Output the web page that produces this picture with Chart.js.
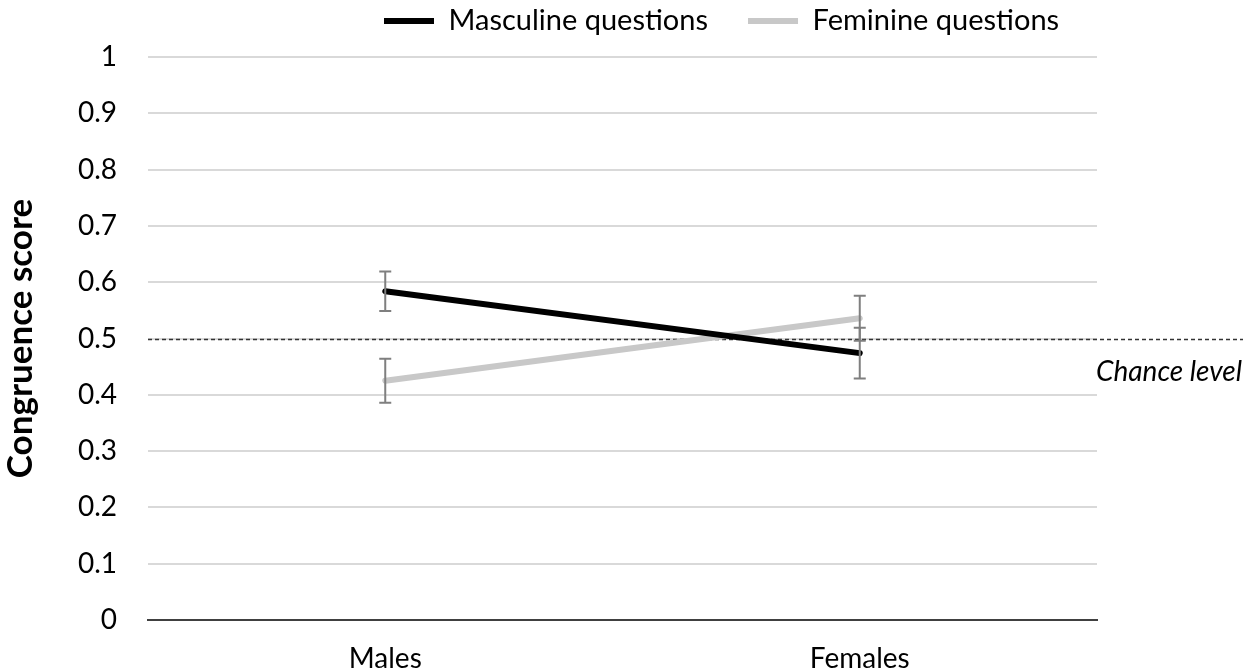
<!DOCTYPE html>
<html><head><meta charset="utf-8">
<script src="https://cdn.jsdelivr.net/npm/chart.js@4.4.0/dist/chart.umd.min.js"></script>
<style>html,body{margin:0;padding:0;background:#fff;overflow:hidden;} #wrap{width:1260px;height:672px;}</style>
</head><body><div id="wrap"><canvas id="c" width="1260" height="672"></canvas></div>
<script>
const categories = ['Males', 'Females'];
const seriesNames = ['Masculine questions', 'Feminine questions'];
const masculine = [0.584, 0.474];
const masculineErr = [0.035, 0.045];
const feminine = [0.425, 0.536];
const feminineErr = [0.039, 0.040];
const yTickLabels = ['0', '0.1', '0.2', '0.3', '0.4', '0.5', '0.6', '0.7', '0.8', '0.9', '1'];
const chanceLevel = 0.5;
const chanceLabel = 'Chance level';
const yTitle = 'Congruence score';

const FONT = 'Lato';
Chart.defaults.font.family = FONT;
Chart.defaults.color = '#000';

const errors = [masculineErr, feminineErr];

const errorBarPlugin = {
  id: 'errorBars',
  afterDatasetsDraw(chart) {
    const ctx = chart.ctx, y = chart.scales.y;
    ctx.save();
    ctx.strokeStyle = '#7f7f7f';
    ctx.lineWidth = 2;
    chart.data.datasets.forEach((ds, i) => {
      const meta = chart.getDatasetMeta(i);
      meta.data.forEach((pt, j) => {
        const v = ds.data[j], e = errors[i][j];
        const yHi = y.getPixelForValue(v + e), yLo = y.getPixelForValue(v - e);
        const cap = 6;
        ctx.beginPath();
        ctx.moveTo(pt.x, yHi); ctx.lineTo(pt.x, yLo);
        ctx.moveTo(pt.x - cap, yHi); ctx.lineTo(pt.x + cap, yHi);
        ctx.moveTo(pt.x - cap, yLo); ctx.lineTo(pt.x + cap, yLo);
        ctx.stroke();
      });
    });
    ctx.restore();
  }
};

const chancePlugin = {
  id: 'chance',
  beforeDatasetsDraw(chart) {
    const ctx = chart.ctx, y = chart.scales.y, a = chart.chartArea;
    const py = Math.round(y.getPixelForValue(chanceLevel)) + 0.5;
    ctx.save();
    ctx.strokeStyle = '#333';
    ctx.lineWidth = 1.3;
    ctx.setLineDash([4, 3]);
    ctx.beginPath();
    ctx.moveTo(a.left, py);
    ctx.lineTo(chart.width - 17, py);
    ctx.stroke();
    ctx.setLineDash([]);
    ctx.fillStyle = '#000';
    ctx.font = 'italic 28px ' + FONT;
    ctx.textAlign = 'right';
    ctx.textBaseline = 'alphabetic';
    ctx.fillText(chanceLabel, chart.width - 18, py + 41);
    ctx.restore();
  }
};

const legendPosPlugin = {
  id: 'legendPos',
  beforeDraw(chart) {
    const lg = chart.legend;
    if (!lg) return;
    const pad = lg.options.labels.padding;
    const fs = lg.options.labels.font.size;
    const w = lg.right - lg.left;
    lg.left = 384 - pad; lg.right = lg.left + w;
    lg.top = 21 - pad - fs / 2; lg.bottom = 52;
  }
};

new Chart(document.getElementById('c'), {
  type: 'line',
  data: {
    labels: categories,
    datasets: [
      { label: seriesNames[0], data: masculine, borderColor: '#000', backgroundColor: '#000', borderWidth: 6, pointRadius: 0, borderCapStyle: 'round', tension: 0 },
      { label: seriesNames[1], data: feminine, borderColor: '#c8c8c8', backgroundColor: '#c8c8c8', borderWidth: 6, pointRadius: 0, borderCapStyle: 'round', tension: 0 }
    ]
  },
  options: {
    responsive: false,
    animation: false,
    devicePixelRatio: 1,
    layout: { padding: { top: 17, right: 163, left: 0, bottom: 0 } },
    plugins: {
      legend: {
        position: 'top',
        align: 'start',
        maxHeight: 40,
        labels: { usePointStyle: true, pointStyle: 'line', pointStyleWidth: 50, padding: 40, color: '#000', font: { size: 29, family: FONT } }
      },
      tooltip: { enabled: false }
    },
    scales: {
      x: {
        offset: true,
        grid: { display: false, drawTicks: false },
        border: { display: true, color: '#404040', width: 2 },
        ticks: { padding: 22, color: '#000', font: { size: 28, family: FONT } },
        afterFit(s) { s.height = 672 - 620; }
      },
      y: {
        min: 0, max: 1,
        border: { display: false },
        grid: { drawTicks: false, lineWidth: 2, color: (c) => c.tick && c.tick.value === 0 ? 'rgba(0,0,0,0)' : '#d9d9d9' },
        ticks: { stepSize: 0.1, padding: 31, color: '#000', font: { size: 28, family: FONT }, callback: (v, i) => yTickLabels[i] },
        title: { display: true, text: yTitle, color: '#000', padding: 0, font: { size: 35, weight: 'bold', family: FONT } },
        afterFit(s) { s.width = 148; }
      }
    }
  },
  plugins: [errorBarPlugin, chancePlugin, legendPosPlugin]
});
</script>
</body></html>
